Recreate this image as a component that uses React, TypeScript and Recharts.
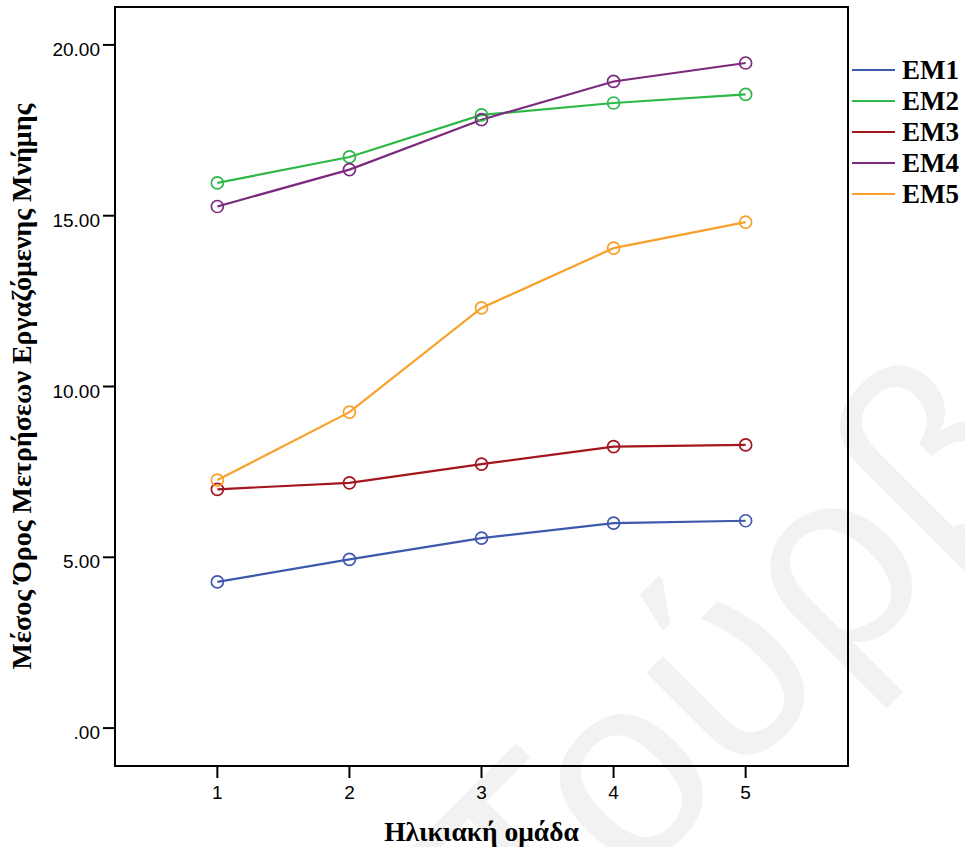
import React from 'react';
import { LineChart, Line, XAxis, YAxis, ReferenceArea, Legend, Label } from 'recharts';

// Age groups on the horizontal axis
const ageGroups = [1, 2, 3, 4, 5];

// Mean working-memory score per measurement, one array per series
const em1 = [4.28, 4.94, 5.56, 6.0, 6.07];
const em2 = [15.96, 16.72, 17.95, 18.3, 18.55];
const em3 = [6.99, 7.18, 7.73, 8.24, 8.29];
const em4 = [15.27, 16.35, 17.81, 18.93, 19.47];
const em5 = [7.26, 9.25, 12.3, 14.05, 14.81];

const seriesNames = ['EM1', 'EM2', 'EM3', 'EM4', 'EM5'];
const seriesValues = [em1, em2, em3, em4, em5];
const seriesColors = ['#3e58ac', '#2eb848', '#a3161d', '#7b2a7f', '#f9a02a'];

const yTicks = [0, 5, 10, 15, 20];
const yTickLabels = ['.00', '5.00', '10.00', '15.00', '20.00'];
const xTickLabels = ['1', '2', '3', '4', '5'];

const xTitle = 'Ηλικιακή ομάδα';
const yTitle = 'Μέσος Όρος Μετρήσεων Εργαζόμενης Μνήμης';
const watermarkText = 'Τούρβ';

const X_DOMAIN: [number, number] = [0.225, 5.775];
const Y_DOMAIN: [number, number] = [-1.11, 21.11];

const data = ageGroups.map((g, i) => {
  const row: Record<string, number> = { group: g };
  seriesNames.forEach((name, s) => {
    row[name] = seriesValues[s][i];
  });
  return row;
});

const SANS = '"Liberation Sans", Arial, sans-serif';
const SERIF = '"Liberation Serif", "Times New Roman", serif';

const YTick = (props: any) => {
  const { x, y, payload } = props;
  const idx = yTicks.indexOf(payload.value);
  return (
    <text x={x} y={y} dy={11} textAnchor="end" fill="#000" fontSize={19} fontFamily={SANS}>
      {idx >= 0 ? yTickLabels[idx] : payload.value}
    </text>
  );
};

const XTick = (props: any) => {
  const { x, y, payload } = props;
  const idx = ageGroups.indexOf(payload.value);
  return (
    <text x={x} y={y} dy={14} textAnchor="middle" fill="#000" fontSize={19} fontFamily={SANS}>
      {idx >= 0 ? xTickLabels[idx] : payload.value}
    </text>
  );
};

const XTitle = (props: any) => {
  const vb = props.viewBox;
  return (
    <text
      x={vb.x + vb.width / 2}
      y={vb.y + 75}
      textAnchor="middle"
      fontSize={27.5}
      fontWeight="bold"
      fontFamily={SERIF}
      fill="#000"
    >
      {xTitle}
    </text>
  );
};

const YTitle = (props: any) => {
  const vb = props.viewBox;
  const cx = 31;
  const cy = vb.y + vb.height / 2;
  return (
    <text
      x={cx}
      y={cy}
      transform={`rotate(-90 ${cx} ${cy})`}
      textAnchor="middle"
      fontSize={28}
      fontWeight="bold"
      fontFamily={SERIF}
      fill="#000"
    >
      {yTitle}
    </text>
  );
};

const LegendContent = (props: any) => {
  const payload = props.payload || [];
  return (
    <svg width={114} height={165} style={{ display: 'block' }}>
      {payload.map((entry: any, i: number) => {
        const cy = 20 + i * 31;
        return (
          <g key={entry.value}>
            <line x1={1} x2={44} y1={cy} y2={cy} stroke={entry.color} strokeWidth={2} />
            <text x={51} y={cy + 8.8} fontSize={27} fontWeight="bold" fontFamily={SERIF} fill="#000">
              {entry.value}
            </text>
          </g>
        );
      })}
    </svg>
  );
};

export default function App() {
  return (
    <div style={{ position: 'absolute', left: 0, top: 0, width: 965, height: 847, background: '#fff' }}>
      <svg width={965} height={847} style={{ position: 'absolute', left: 0, top: 0 }}>
        <text
          x={535}
          y={982}
          transform="rotate(-45 535 982)"
          fontSize={265}
          fontFamily={SANS}
          fill="#f2f2f2"
        >
          {watermarkText}
        </text>
      </svg>
      <div style={{ position: 'absolute', left: 0, top: 0 }}>
        <LineChart width={965} height={847} data={data} margin={{ top: 7, right: 117, bottom: 0, left: 0 }}>
          <XAxis
            dataKey="group"
            type="number"
            domain={X_DOMAIN}
            ticks={ageGroups}
            allowDataOverflow
            height={81}
            tickSize={12}
            tickMargin={7}
            axisLine={{ stroke: '#000', strokeWidth: 2 }}
            tickLine={{ stroke: '#000', strokeWidth: 2 }}
            tick={<XTick />}
          >
            <Label content={<XTitle />} />
          </XAxis>
          <YAxis
            type="number"
            domain={Y_DOMAIN}
            ticks={yTicks}
            allowDataOverflow
            width={115}
            tickSize={12}
            tickMargin={3}
            axisLine={{ stroke: '#000', strokeWidth: 2 }}
            tickLine={{ stroke: '#000', strokeWidth: 2 }}
            tick={<YTick />}
          >
            <Label content={<YTitle />} />
          </YAxis>
          <ReferenceArea
            x1={X_DOMAIN[0]}
            x2={X_DOMAIN[1]}
            y1={Y_DOMAIN[0]}
            y2={Y_DOMAIN[1]}
            fill="none"
            fillOpacity={0}
            stroke="#000"
            strokeWidth={2}
            ifOverflow="visible"
          />
          {seriesNames.map((name, s) => (
            <Line
              key={name}
              type="linear"
              dataKey={name}
              name={name}
              stroke={seriesColors[s]}
              strokeWidth={2.2}
              dot={{ r: 6, fill: 'none', stroke: seriesColors[s], strokeWidth: 1.7 }}
              activeDot={false}
              isAnimationActive={false}
            />
          ))}
          <Legend
            layout="vertical"
            align="center"
            verticalAlign="middle"
            content={<LegendContent />}
            wrapperStyle={{ left: 851, top: 50, width: 114, height: 165 }}
          />
        </LineChart>
      </div>
    </div>
  );
}
